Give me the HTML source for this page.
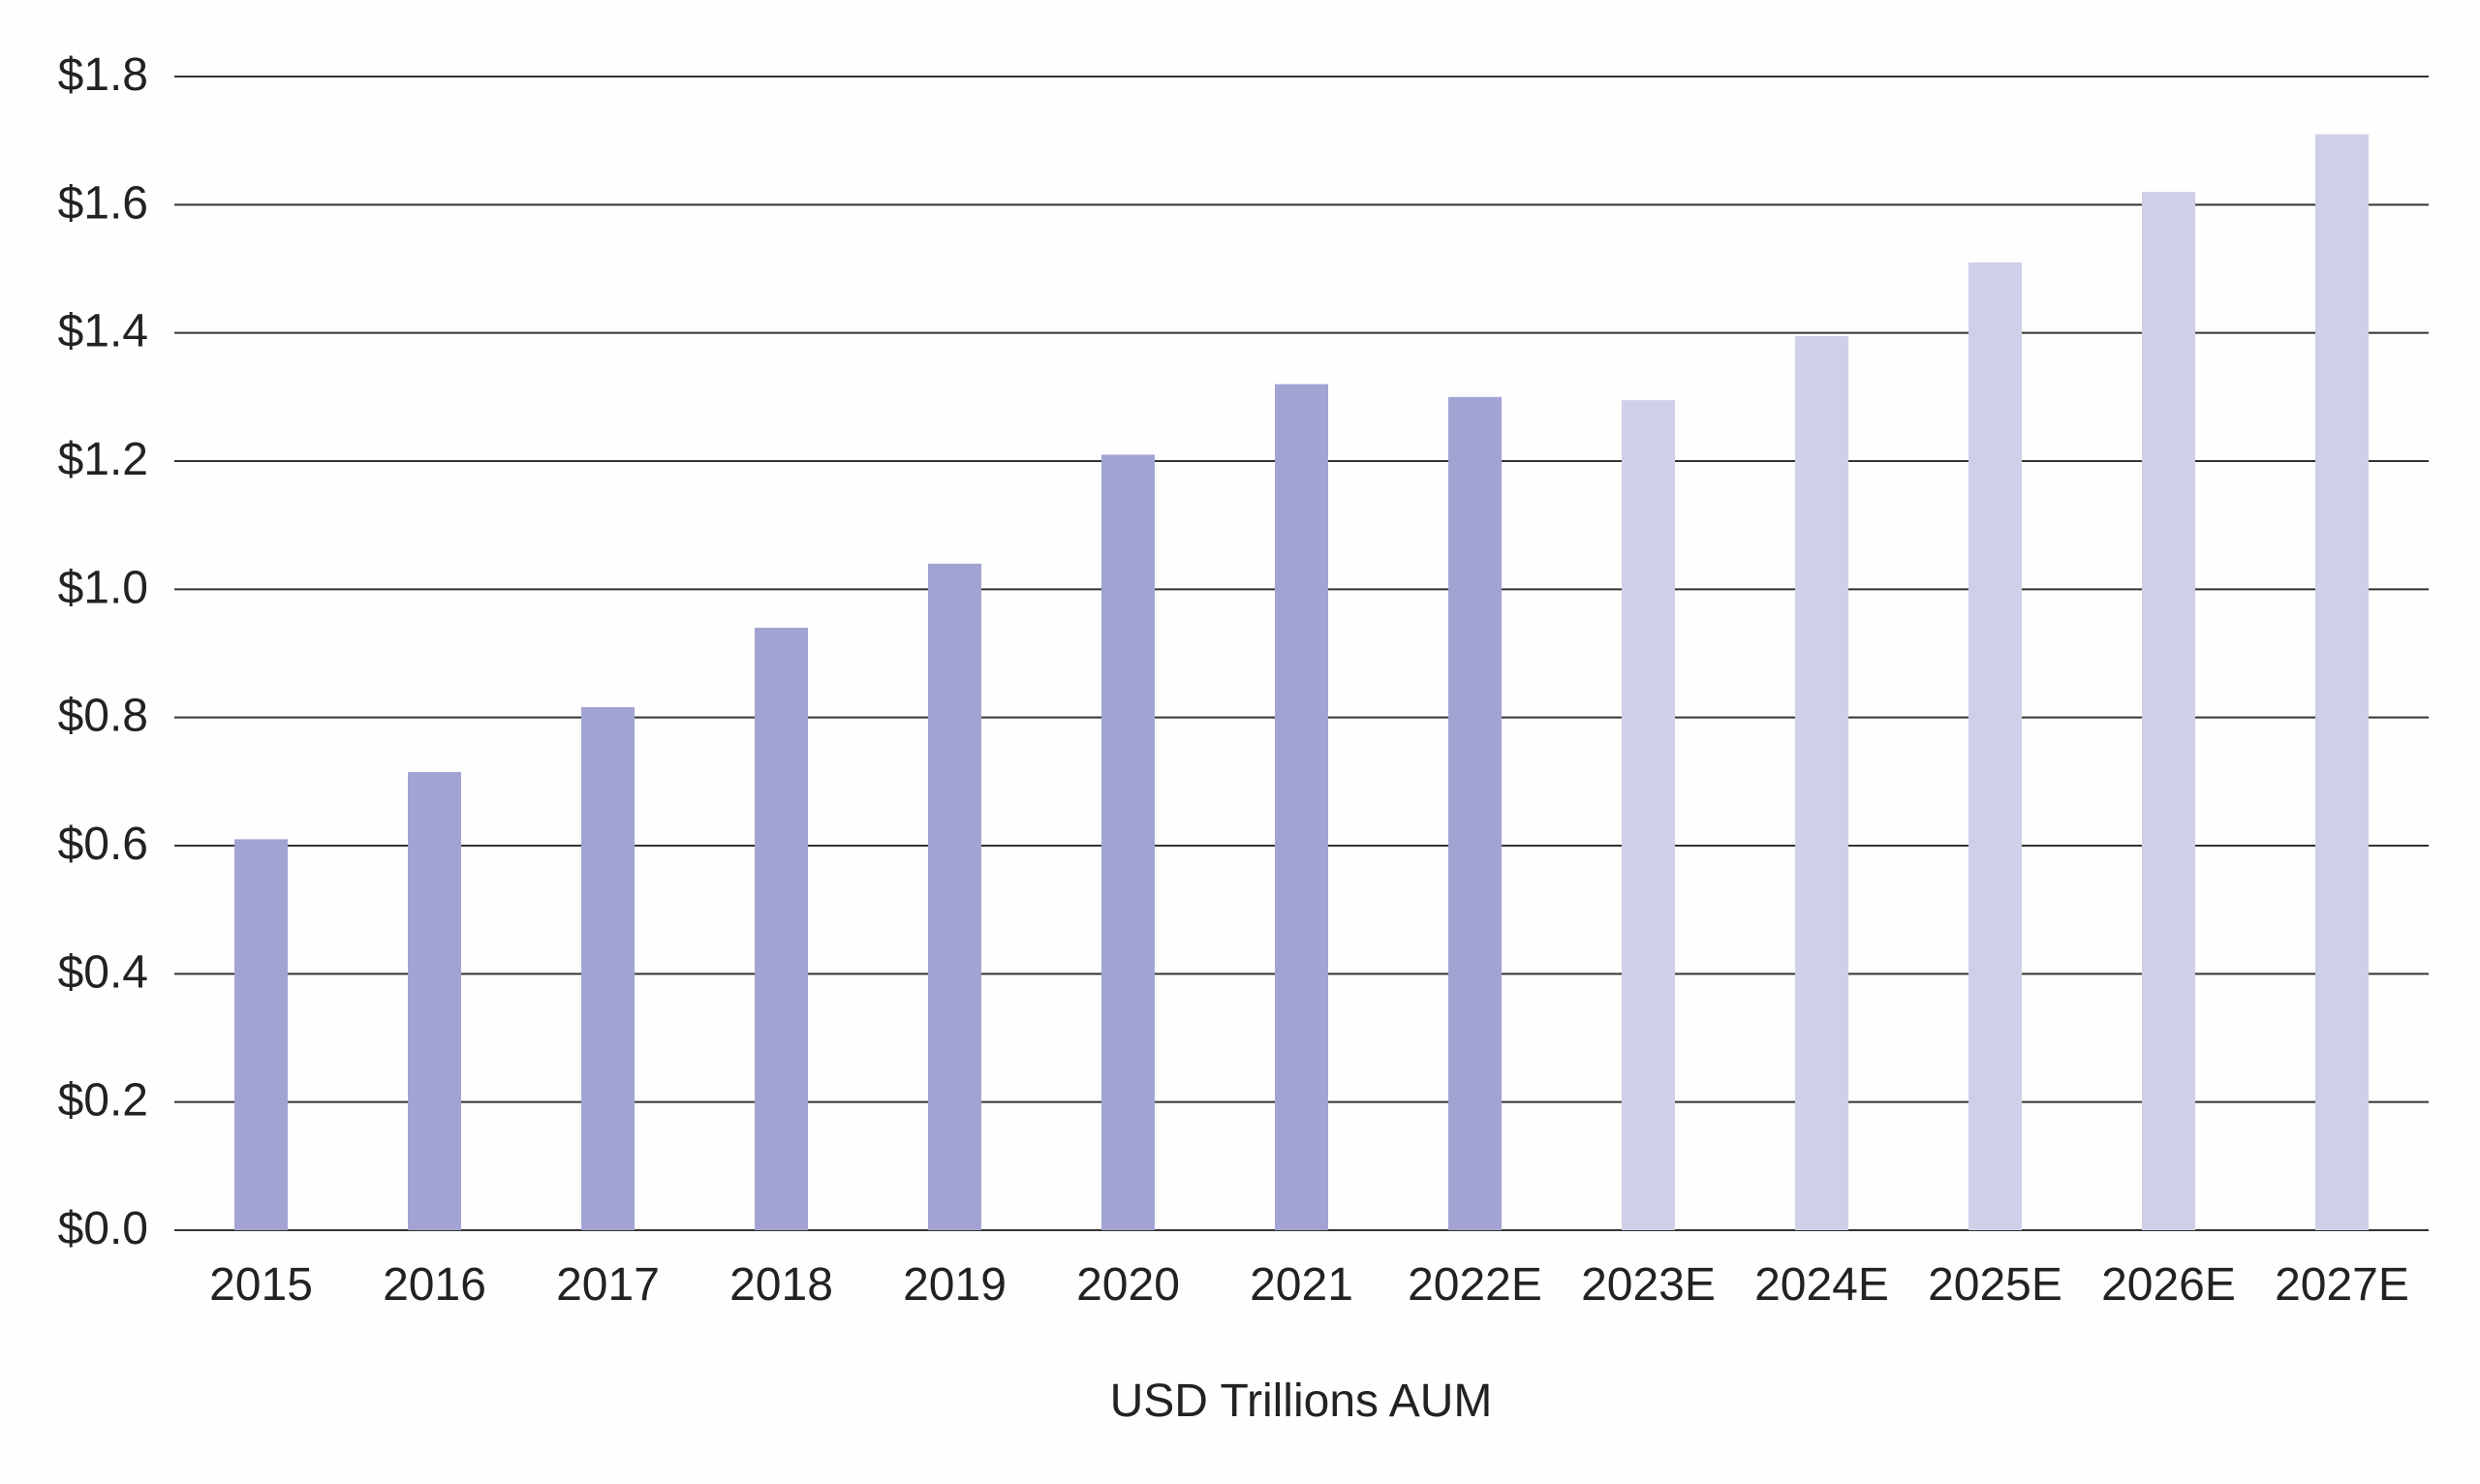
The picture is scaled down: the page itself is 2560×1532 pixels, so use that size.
<!DOCTYPE html>
<html><head><meta charset="utf-8"><style>
html,body{margin:0;padding:0;background:#fefefe;}
svg{display:block;font-family:"Liberation Sans",sans-serif;}
</style></head><body>
<svg id="chart" width="2560" height="1532" viewBox="0 0 2560 1532" xmlns="http://www.w3.org/2000/svg">
<g id="grid"></g>
<g id="yticks"></g>
<g id="bars"></g>
<g id="xticks"></g>
<text x="1343" y="1462" font-size="48" fill="#222" text-anchor="middle">USD Trillions AUM</text>
</svg>
<script>
const categories = ["2015","2016","2017","2018","2019","2020","2021","2022E","2023E","2024E","2025E","2026E","2027E"];
const values = [0.61,0.715,0.816,0.94,1.04,1.21,1.32,1.30,1.295,1.395,1.51,1.62,1.71];
const estimated = [false,false,false,false,false,false,false,false,true,true,true,true,true];
const yTicks = [0,0.2,0.4,0.6,0.8,1.0,1.2,1.4,1.6,1.8];
const yTickLabels = ["$0.0","$0.2","$0.4","$0.6","$0.8","$1.0","$1.2","$1.4","$1.6","$1.8"];

const NS="http://www.w3.org/2000/svg";
const plotL=180, plotR=2507, y0=1270, yTop=79, yMax=1.8;
const band=(plotR-plotL)/categories.length, barW=55;
const yScale=v=>y0-(v/yMax)*(y0-yTop);
const xCenter=i=>plotL+band*(i+0.5);
function mk(tag,attrs,parent){const e=document.createElementNS(NS,tag);for(const k in attrs)e.setAttribute(k,attrs[k]);parent.appendChild(e);return e;}
const grid=document.getElementById('grid'),yt=document.getElementById('yticks'),bars=document.getElementById('bars'),xt=document.getElementById('xticks');
yTicks.forEach((t,i)=>{
  const y=yScale(t);
  const l=mk('line',{x1:plotL,x2:plotR,y1:y,y2:y,stroke:'#333','stroke-width':2},grid);
  
  
  const tx=mk('text',{x:153,y:y+14,'font-size':48,fill:'#222','text-anchor':'end'},yt);
  tx.textContent=yTickLabels[i];
  
  
});
categories.forEach((c,i)=>{
  const y=yScale(values[i]);
  const r=mk('rect',{x:xCenter(i)-barW/2,y:y,width:barW,height:y0-y,fill:estimated[i]?'#ced0e7':'#a2a3d2'},bars);
  
  
  const tx=mk('text',{x:xCenter(i),y:1342,'font-size':48,fill:'#222','text-anchor':'middle'},xt);
  tx.textContent=c;
  
  
});
</script>
</body></html>
